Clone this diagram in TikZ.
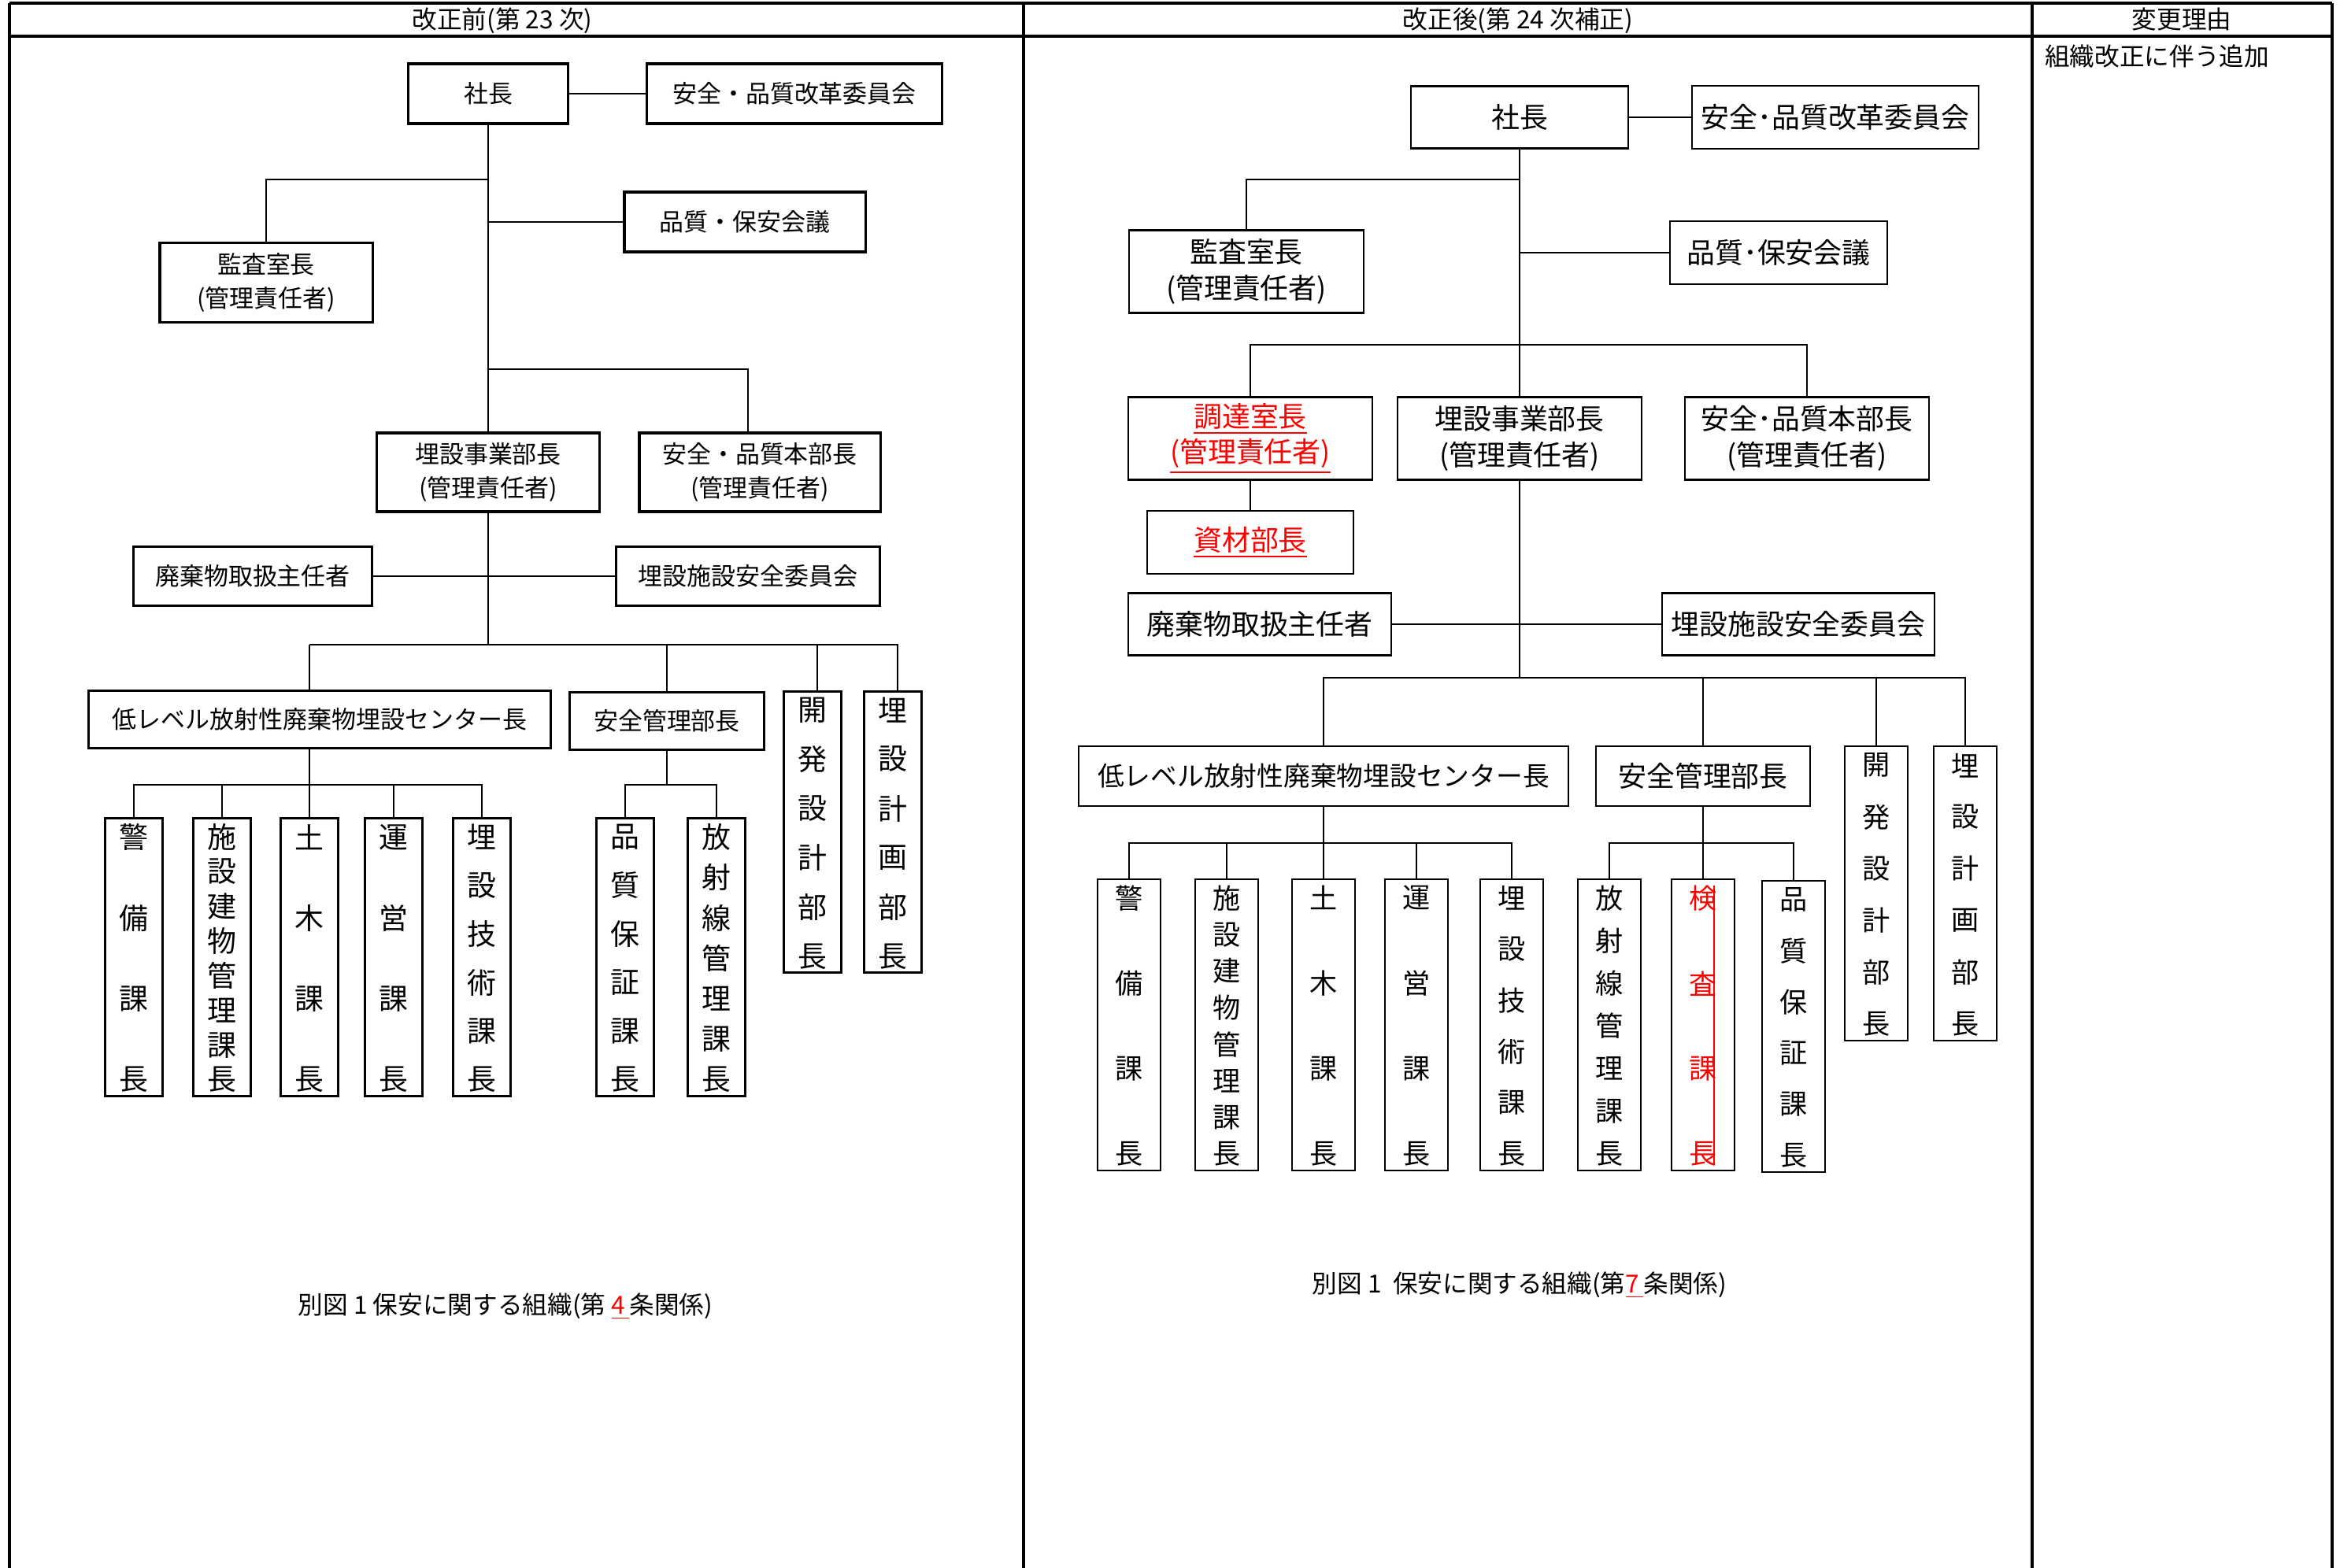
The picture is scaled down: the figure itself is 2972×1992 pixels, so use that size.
\documentclass[tikz,border=0pt]{standalone}
\usepackage{fontspec}
\setmainfont{Noto Sans CJK JP}
\usetikzlibrary{calc}

% vertical text, spread from top to bottom of a box
\newcommand{\tate}[4]{%
  \coordinate (tt) at ($(#1.north)+(0,25)$);
  \coordinate (tb) at ($(#1.south)+(0,-22)$);
  \foreach \ch [count=\k] in {#4}
    \node[#2] at ($(tt)!{(\k-1)/(#3-1)}!(tb)$) {\ch};
}

\begin{document}
\begin{tikzpicture}[x=0.01cm,y=-0.01cm,line width=0.7pt,
    lbox/.style={draw,line width=0.9pt,inner sep=0pt,align=center,font=\fontsize{8.8pt}{12pt}\selectfont},
    rbox/.style={draw,line width=0.6pt,inner sep=0pt,align=center,font=\fontsize{10.2pt}{13pt}\selectfont},
    lsub/.style={lbox,minimum width=0.73cm,minimum height=3.52cm},
    rsub/.style={rbox,minimum width=0.80cm,minimum height=3.70cm},
    lchar/.style={inner sep=0pt,font=\fontsize{10.5pt}{10.5pt}\selectfont},
    rchar/.style={inner sep=0pt,font=\fontsize{10pt}{10pt}\selectfont},
    hdr/.style={inner sep=0pt,font=\fontsize{9pt}{11pt}\selectfont}]
    \useasboundingbox (0,0) rectangle (2972,1992);

    % table
    \draw [line width=1pt] (12,4)--(2962,4);
    \draw [line width=1pt] (12,46)--(2962,46);
    \draw [line width=1pt] (12,4)--(12,1992);
    \draw [line width=1pt] (1300,4)--(1300,1992);
    \draw [line width=1pt] (2581,4)--(2581,1992);
    \draw [line width=1pt] (2962,4)--(2962,1992);
    \node[hdr] (h-mae) at (638,26) {改正前(第 23 次)};
    \node[hdr] (h-ato) at (1928,26) {改正後(第 24 次補正)};
    \node[hdr] (h-riyu) at (2771,25) {変更理由};
    \node[hdr,anchor=west] (riyu) at (2596,72) {組織改正に伴う追加};

    % before
    \node[lbox,minimum width=2.03cm,minimum height=0.76cm] (L-ceo) at (620,119) {社長};
    \node[lbox,minimum width=3.75cm,minimum height=0.76cm] (L-kaikaku) at (1009,119) {安全・品質改革委員会};
    \node[lbox,minimum width=2.70cm,minimum height=1.01cm] (L-kansa) at (338,359) {監査室長\\(管理責任者)};
    \node[lbox,minimum width=3.06cm,minimum height=0.76cm] (L-kaigi) at (946,282) {品質・保安会議};
    \node[lbox,minimum width=2.83cm,minimum height=1.00cm] (L-jigyo) at (620,600) {埋設事業部長\\(管理責任者)};
    \node[lbox,minimum width=3.06cm,minimum height=1.00cm] (L-honbu) at (965,600) {安全・品質本部長\\(管理責任者)};
    \node[lbox,minimum width=3.03cm,minimum height=0.75cm] (L-haiki) at (321,732) {廃棄物取扱主任者};
    \node[lbox,minimum width=3.35cm,minimum height=0.75cm] (L-iinkai) at (950,732) {埋設施設安全委員会};
    \node[lbox,minimum width=5.87cm,minimum height=0.73cm] (L-center) at (406,914) {低レベル放射性廃棄物埋設センター長};
    \node[lbox,minimum width=2.47cm,minimum height=0.73cm] (L-kanri) at (847,916) {安全管理部長};
    \node[lbox,minimum width=0.73cm,minimum height=3.57cm] (L-kaihatsu) at (1032,1057) {};
    \node[lbox,minimum width=0.73cm,minimum height=3.57cm] (L-keikaku) at (1134,1057) {};
    \node[lsub] (L-keibi) at (170,1216) {};
    \node[lsub] (L-shisetsu) at (282,1216) {};
    \node[lsub] (L-doboku) at (393,1216) {};
    \node[lsub] (L-unei) at (500,1216) {};
    \node[lsub] (L-gijutsu) at (612,1216) {};
    \node[lsub] (L-hinshitsu) at (794,1216) {};
    \node[lsub] (L-hoshasen) at (910,1216) {};
    \tate{L-kaihatsu}{lchar}{6}{開,発,設,計,部,長}
    \tate{L-keikaku}{lchar}{6}{埋,設,計,画,部,長}
    \tate{L-keibi}{lchar}{4}{警,備,課,長}
    \tate{L-shisetsu}{lchar}{8}{施,設,建,物,管,理,課,長}
    \tate{L-doboku}{lchar}{4}{土,木,課,長}
    \tate{L-unei}{lchar}{4}{運,営,課,長}
    \tate{L-gijutsu}{lchar}{6}{埋,設,技,術,課,長}
    \tate{L-hinshitsu}{lchar}{6}{品,質,保,証,課,長}
    \tate{L-hoshasen}{lchar}{7}{放,射,線,管,理,課,長}

    \coordinate (L-k1) at (620,228);
    \coordinate (L-k2) at (620,469);
    \coordinate (L-k3) at (620,819);
    \coordinate (L-k4) at (393,997);
    \coordinate (L-k5) at (847,997);
    \draw (L-ceo.east)--(L-kaikaku.west);
    \draw (L-ceo.south)--(L-jigyo.north);
    \draw (L-k1) -| (L-kansa.north);
    \draw (L-kaigi.west -| L-ceo.south)--(L-kaigi.west);
    \draw (L-k2) -| ([xshift=-0.15cm]L-honbu.north);
    \draw (L-haiki.east)--(L-iinkai.west);
    \draw (L-jigyo.south)--(L-k3);
    \draw (L-doboku.north |- L-k3) -| ([xshift=0.06cm]L-keikaku.north);
    \draw (L-doboku.north |- L-k3)--(L-doboku.north |- L-center.north);
    \draw (L-k3) -| (L-kanri.north);
    \draw (L-k3) -| ([xshift=0.06cm]L-kaihatsu.north);
    \draw (L-doboku.north |- L-center.south)--(L-doboku.north);
    \draw (L-keibi.north) |- (L-k4) -| (L-gijutsu.north);
    \draw (L-k4) -| (L-shisetsu.north);
    \draw (L-k4) -| (L-unei.north);
    \draw (L-kanri.south)--(L-k5);
    \draw (L-hinshitsu.north) |- (L-k5) -| (L-hoshasen.north);

    \node[hdr] (L-cap) at (642,1660) {別図 1 保安に関する組織(第 {\color{red}\underline{4\,}}条関係)};

    % after
    \node[rbox,minimum width=2.75cm,minimum height=0.79cm] (R-ceo) at (1930,149) {社長};
    \node[rbox,minimum width=3.63cm,minimum height=0.80cm] (R-kaikaku) at (2331,149) {安全･品質改革委員会};
    \node[rbox,minimum width=2.98cm,minimum height=1.05cm] (R-kansa) at (1583,345) {監査室長\\(管理責任者)};
    \node[rbox,minimum width=2.75cm,minimum height=0.80cm] (R-kaigi) at (2259,321) {品質･保安会議};
    \node[rbox,minimum width=3.09cm,minimum height=1.05cm,text=red] (R-chotatsu) at (1588,557) {\underline{調達室長}\\\underline{(管理責任者)}};
    \node[rbox,minimum width=3.10cm,minimum height=1.05cm] (R-jigyo) at (1930,557) {埋設事業部長\\(管理責任者)};
    \node[rbox,minimum width=3.09cm,minimum height=1.05cm] (R-honbu) at (2295,557) {安全･品質本部長\\(管理責任者)};
    \node[rbox,minimum width=2.61cm,minimum height=0.80cm,text=red] (R-shizai) at (1588,689) {\underline{資材部長}};
    \node[rbox,minimum width=3.33cm,minimum height=0.79cm] (R-haiki) at (1600,793) {廃棄物取扱主任者};
    \node[rbox,minimum width=3.46cm,minimum height=0.79cm] (R-iinkai) at (2284,793) {埋設施設安全委員会};
    \node[rbox,minimum width=6.21cm,minimum height=0.76cm,font=\fontsize{9.6pt}{12pt}\selectfont] (R-center) at (1681,986) {低レベル放射性廃棄物埋設センター長};
    \node[rbox,minimum width=2.72cm,minimum height=0.76cm] (R-kanri) at (2163,986) {安全管理部長};
    \node[rbox,minimum width=0.80cm,minimum height=3.73cm] (R-kaihatsu) at (2383,1135) {};
    \node[rbox,minimum width=0.80cm,minimum height=3.73cm] (R-keikaku) at (2496,1135) {};
    \node[rsub] (R-keibi) at (1434,1302) {};
    \node[rsub] (R-shisetsu) at (1558,1302) {};
    \node[rsub] (R-doboku) at (1681,1302) {};
    \node[rsub] (R-unei) at (1799,1302) {};
    \node[rsub] (R-gijutsu) at (1920,1302) {};
    \node[rsub] (R-hoshasen) at (2044,1302) {};
    \node[rsub] (R-kensa) at (2163,1302) {};
    \node[rsub] (R-hinshitsu) at (2278,1304) {};
    \tate{R-kaihatsu}{rchar}{6}{開,発,設,計,部,長}
    \tate{R-keikaku}{rchar}{6}{埋,設,計,画,部,長}
    \tate{R-keibi}{rchar}{4}{警,備,課,長}
    \tate{R-shisetsu}{rchar}{8}{施,設,建,物,管,理,課,長}
    \tate{R-doboku}{rchar}{4}{土,木,課,長}
    \tate{R-unei}{rchar}{4}{運,営,課,長}
    \tate{R-gijutsu}{rchar}{6}{埋,設,技,術,課,長}
    \tate{R-hoshasen}{rchar}{7}{放,射,線,管,理,課,長}
    \tate{R-kensa}{rchar,text=red}{4}{検,査,課,長}
    \tate{R-hinshitsu}{rchar}{6}{品,質,保,証,課,長}
    \draw [red,line width=0.5pt] ([xshift=0.14cm,yshift=-0.09cm]R-kensa.north)--([xshift=0.14cm,yshift=0.09cm]R-kensa.south);

    \coordinate (R-k1) at (1930,228);
    \coordinate (R-k2) at (1930,438);
    \coordinate (R-k3) at (1930,861);
    \coordinate (R-k4) at (1681,1071);
    \coordinate (R-k5) at (2163,1071);
    \draw (R-ceo.east)--(R-kaikaku.west);
    \draw (R-ceo.south)--(R-jigyo.north);
    \draw (R-k1) -| (R-kansa.north);
    \draw (R-kaigi.west -| R-ceo.south)--(R-kaigi.west);
    \draw (R-chotatsu.north) |- (R-k2) -| (R-honbu.north);
    \draw (R-chotatsu.south)--(R-shizai.north);
    \draw (R-haiki.east)--(R-iinkai.west);
    \draw (R-jigyo.south)--(R-k3);
    \draw (R-center.north) |- (R-k3) -| (R-keikaku.north);
    \draw (R-k3) -| (R-kanri.north);
    \draw (R-k3) -| (R-kaihatsu.north);
    \draw (R-center.south)--(R-doboku.north);
    \draw (R-keibi.north) |- (R-k4) -| (R-gijutsu.north);
    \draw (R-k4) -| (R-shisetsu.north);
    \draw (R-k4) -| (R-unei.north);
    \draw (R-kanri.south)--(R-kensa.north);
    \draw (R-hoshasen.north) |- (R-k5) -| (R-hinshitsu.north);

    \node[hdr] (R-cap) at (1930,1633) {別図 1\ \ 保安に関する組織(第{\color{red}\underline{7\,}}条関係)};
\end{tikzpicture}
\end{document}
